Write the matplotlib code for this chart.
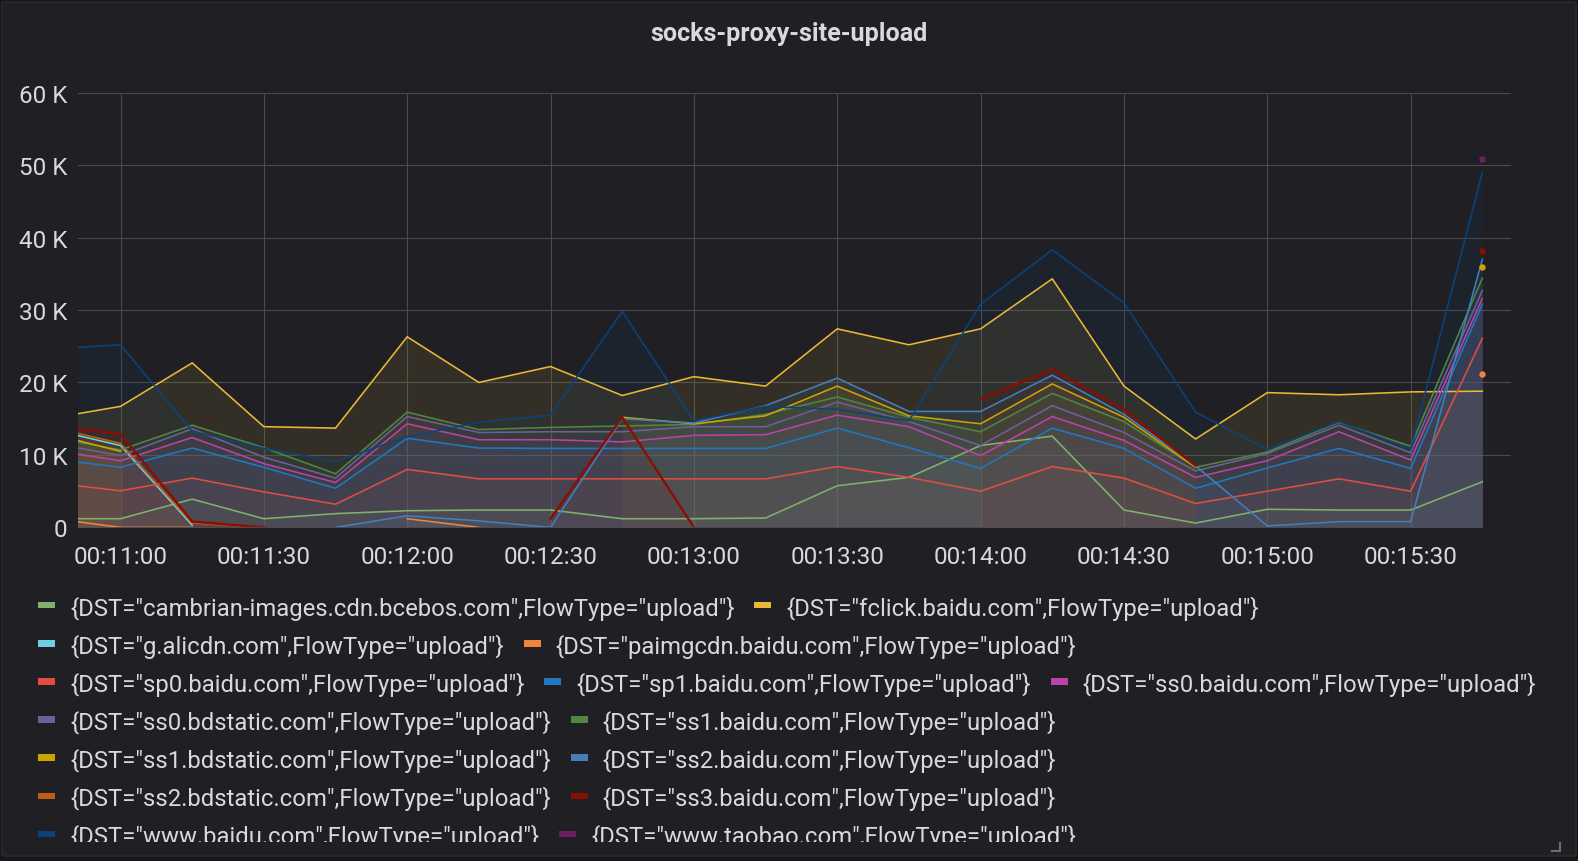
import numpy as np
import matplotlib
matplotlib.use("Agg")
import matplotlib.pyplot as plt
from matplotlib.patches import FancyBboxPatch, Rectangle
from matplotlib.lines import Line2D
from matplotlib.transforms import Bbox, TransformedBbox

# ---------------- data (values in K) ----------------
times = ["00:10:45", "00:11:00", "00:11:15", "00:11:30", "00:11:45", "00:12:00",
         "00:12:15", "00:12:30", "00:12:45", "00:13:00", "00:13:15", "00:13:30",
         "00:13:45", "00:14:00", "00:14:15", "00:14:30", "00:14:45", "00:15:00",
         "00:15:15", "00:15:30", "00:15:45"]

cambrian = [1.2, 1.2, 3.9, 1.2, 1.9, 2.3, 2.4, 2.4, 1.2, 1.2, 1.3, 5.75, 6.9, 11.3, 12.6, 2.4, 0.6, 2.5, 2.4, 2.4, 6.3]
fclick = [15.0, 16.7, 22.7, 13.9, 13.7, 26.3, 20.0, 22.2, 18.2, 20.8, 19.5, 27.4, 25.2, 27.4, 34.3, 19.5, 12.2, 18.6, 18.3, 18.7, 18.8]
g_alicdn = [13.6, 11.3, 0.3] + [None] * 18
paimgcdn = [1.3, 0, 0, None, None, 1.2, 0] + [None] * 13 + [21.1]
sp0 = [6.2, 5.05, 6.8, 4.9, 3.2, 8.0, 6.7, 6.7, 6.7, 6.7, 6.7, 8.4, 6.9, 5.0, 8.4, 6.8, 3.3, 5.0, 6.7, 5.0, 26.1]
sp1 = [9.5, 8.3, 10.95, 8.3, 5.4, 12.3, 10.95, 10.9, 10.9, 10.9, 10.9, 13.7, 11.0, 8.15, 13.7, 10.9, 5.4, 8.2, 10.9, 8.15, 30.8]
ss0_baidu = [10.7, 9.2, 12.4, 8.8, 6.2, 14.3, 12.1, 12.1, 11.8, 12.7, 12.8, 15.5, 13.9, 9.9, 15.3, 12.0, 6.9, 9.2, 13.2, 9.3, 31.6]
ss0_bdstatic = [11.7, 9.9, 13.6, 9.7, 6.8, 15.3, 13.1, 13.2, 13.2, 13.9, 13.9, 17.3, 14.6, 11.3, 16.8, 13.1, 7.8, 10.2, 14.1, 10.3, 32.7]
ss1_baidu = [12.5, 10.7, 14.1, 11.0, 7.4, 15.9, 13.5, 13.8, 14.0, 14.2, 15.6, 18.0, 15.2, 13.2, 18.5, 14.6, 8.3, 10.4, 14.5, 11.2, 34.4]
ss1_bdstatic = [13.0, 10.5] + [None] * 6 + [15.2, 14.3, 15.4, 19.5, 15.4, 14.3, 19.8, 15.2, 8.3, None, None, None, 35.9]
ss2_baidu = [None, None, None, None, 0, 1.6, 0.9, 0, 15.0, 14.4, 16.8, 20.6, 16.0, 16.0, 21.0, 15.6, 8.5, 0.2, 0.8, 0.8, 37.0]
ss2_bdstatic = [13.9, 11.6, 0.6, 0] + [None] * 17
ss3 = [14.1, 12.9, 0.8, 0, None, None, None, 1.2, 15.2, 0, None, None, None, 17.7, 21.8, 16.3, 8.5, None, None, None, 38.2]
www_baidu = [24.6, 25.2, 13.3, 10.9, 9.1, 12.5, 14.5, 15.5, 29.8, 14.7, 16.7, 16.3, 14.7, 30.8, 38.3, 31.0, 15.9, 10.8, 14.6, 10.8, 49.0]
www_taobao = [None] * 20 + [50.9]

labels = [
    '{DST="cambrian-images.cdn.bcebos.com",FlowType="upload"}',
    '{DST="fclick.baidu.com",FlowType="upload"}',
    '{DST="g.alicdn.com",FlowType="upload"}',
    '{DST="paimgcdn.baidu.com",FlowType="upload"}',
    '{DST="sp0.baidu.com",FlowType="upload"}',
    '{DST="sp1.baidu.com",FlowType="upload"}',
    '{DST="ss0.baidu.com",FlowType="upload"}',
    '{DST="ss0.bdstatic.com",FlowType="upload"}',
    '{DST="ss1.baidu.com",FlowType="upload"}',
    '{DST="ss1.bdstatic.com",FlowType="upload"}',
    '{DST="ss2.baidu.com",FlowType="upload"}',
    '{DST="ss2.bdstatic.com",FlowType="upload"}',
    '{DST="ss3.baidu.com",FlowType="upload"}',
    '{DST="www.baidu.com",FlowType="upload"}',
    '{DST="www.taobao.com",FlowType="upload"}',
]
series = [cambrian, fclick, g_alicdn, paimgcdn, sp0, sp1, ss0_baidu, ss0_bdstatic,
          ss1_baidu, ss1_bdstatic, ss2_baidu, ss2_bdstatic, ss3, www_baidu, www_taobao]
colors = ["#7EB26D", "#EAB839", "#6ED0E0", "#EF843C", "#E24D42", "#1F78C1", "#BA43A9",
          "#705DA0", "#508642", "#CCA300", "#447EBC", "#C15C17", "#890F02", "#0A437C", "#6D1F62"]

x_ticks = ["00:11:00", "00:11:30", "00:12:00", "00:12:30", "00:13:00",
           "00:13:30", "00:14:00", "00:14:30", "00:15:00", "00:15:30"]
y_ticks = [0, 10, 20, 30, 40, 50, 60]
time_range = ("00:10:51", "00:15:51")

# ---------------- layout ----------------
W, H = 1578, 862
FONT = "Roboto"
TXT = "#d8d9da"


def fx(px):
    return px / W


def fy(py):
    return 1 - py / H


def secs(s):
    h, m, sec = (int(v) for v in s.split(":"))
    return h * 3600 + m * 60 + sec


fig = plt.figure(figsize=(W / 100, H / 100), dpi=100, facecolor="#161719")
renderer = fig.canvas.get_renderer()


def text_width(s, size, **kw):
    t = fig.text(0, 0, s, fontsize=size, family=FONT, **kw)
    w = t.get_window_extent(renderer).width
    t.remove()
    return w


def fit_size(s, target, **kw):
    return 10 * target / text_width(s, 10, **kw)


panel = FancyBboxPatch((fx(2), fy(857)), fx(1576) - fx(2), fy(3) - fy(857),
                       boxstyle="round,pad=0,rounding_size=0.002",
                       transform=fig.transFigure, facecolor="#202024",
                       edgecolor="#2c2c30", linewidth=1, zorder=-5)
fig.patches.append(panel)

ax = fig.add_axes([fx(77.5), fy(528.4), fx(1511) - fx(77.5), fy(93.6) - fy(528.4)])
ax.set_zorder(2)
ax.set_facecolor("none")
for sp in ax.spines.values():
    sp.set_visible(False)

x = np.array([secs(t) for t in times], dtype=float)
for i, (vals, col) in enumerate(zip(series, colors)):
    y = np.array([np.nan if v is None else v for v in vals], dtype=float)
    ok = ~np.isnan(y)
    ax.fill_between(x, np.where(ok, y, 0), 0, where=ok, color=col, alpha=0.1,
                    linewidth=0, zorder=1, interpolate=False)
for i, (vals, col) in enumerate(zip(series, colors)):
    y = np.array([np.nan if v is None else v for v in vals], dtype=float)
    lw = 1.7 if col == "#890F02" else 1.15
    ax.plot(x, y, color=col, linewidth=lw, zorder=3 + i * 0.01, solid_joinstyle="miter")
    # isolated points are shown as dots
    for k in range(len(y)):
        prev_nan = k == 0 or np.isnan(y[k - 1])
        next_nan = k == len(y) - 1 or np.isnan(y[k + 1])
        if not np.isnan(y[k]) and prev_nan and next_nan:
            ax.plot([x[k]], [y[k]], "o", color=col, markersize=4.6, zorder=4,
                    clip_on=False, markeredgewidth=0)

ax.set_xlim(secs(time_range[0]), secs(time_range[1]))
ax.set_ylim(0, 60)
ax.set_xticks([secs(t) for t in x_ticks])
ax.set_xticklabels(x_ticks)
ax.set_yticks(y_ticks)
ax.set_yticklabels(["0" if v == 0 else f"{v} K" for v in y_ticks])
ax.grid(True, color="#4a4a4e", linewidth=0.8, zorder=0)
ax.set_axisbelow(True)

tick_size = fit_size("00:11:00", 92.6)
ax.tick_params(axis="both", length=0, colors=TXT, labelsize=tick_size)
ax.tick_params(axis="x", pad=13.0)
ax.tick_params(axis="y", pad=7.5)
for lab in ax.get_xticklabels() + ax.get_yticklabels():
    lab.set_family(FONT)

# title
title = "socks-proxy-site-upload"
title_size = fit_size(title, 278, weight="bold")
fig.text(0.5, fy(34.5), title, ha="center", va="center", fontsize=title_size,
         family=FONT, weight="bold", color=TXT)

# legend (flow layout, rows as in the panel)
legend_rows = [[0, 1], [2, 3], [4, 5, 6], [7, 8], [9, 10], [11, 12], [13, 14]]
leg_size = fit_size(labels[0], 662)
row_y0, row_dy = 606.2, 38.1
clip = TransformedBbox(Bbox([[0, fy(843)], [1, 1]]), fig.transFigure)
for r, row in enumerate(legend_rows):
    yc = row_y0 + r * row_dy
    xs = 38.0
    for idx in row:
        sw = Rectangle((fx(xs), fy(yc + 3.2)), fx(17), 6.4 / H, transform=fig.transFigure,
                       facecolor=colors[idx], edgecolor="none", zorder=5)
        fig.patches.append(sw)
        t = fig.text(fx(xs + 32), fy(yc), labels[idx], ha="left", va="center_baseline",
                     fontsize=leg_size, family=FONT, color=TXT, zorder=5)
        t.set_clip_box(clip)
        t.set_clip_on(True)
        xs = xs + 32 + text_width(labels[idx], leg_size) + 20

# resize handle
fig.add_artist(Line2D([fx(1560), fx(1560)], [fy(844), fy(852)], color="#6e6e72", linewidth=1.5))
fig.add_artist(Line2D([fx(1552), fx(1560)], [fy(852), fy(852)], color="#6e6e72", linewidth=1.5))

fig.savefig("out.png", dpi=100, facecolor=fig.get_facecolor())
